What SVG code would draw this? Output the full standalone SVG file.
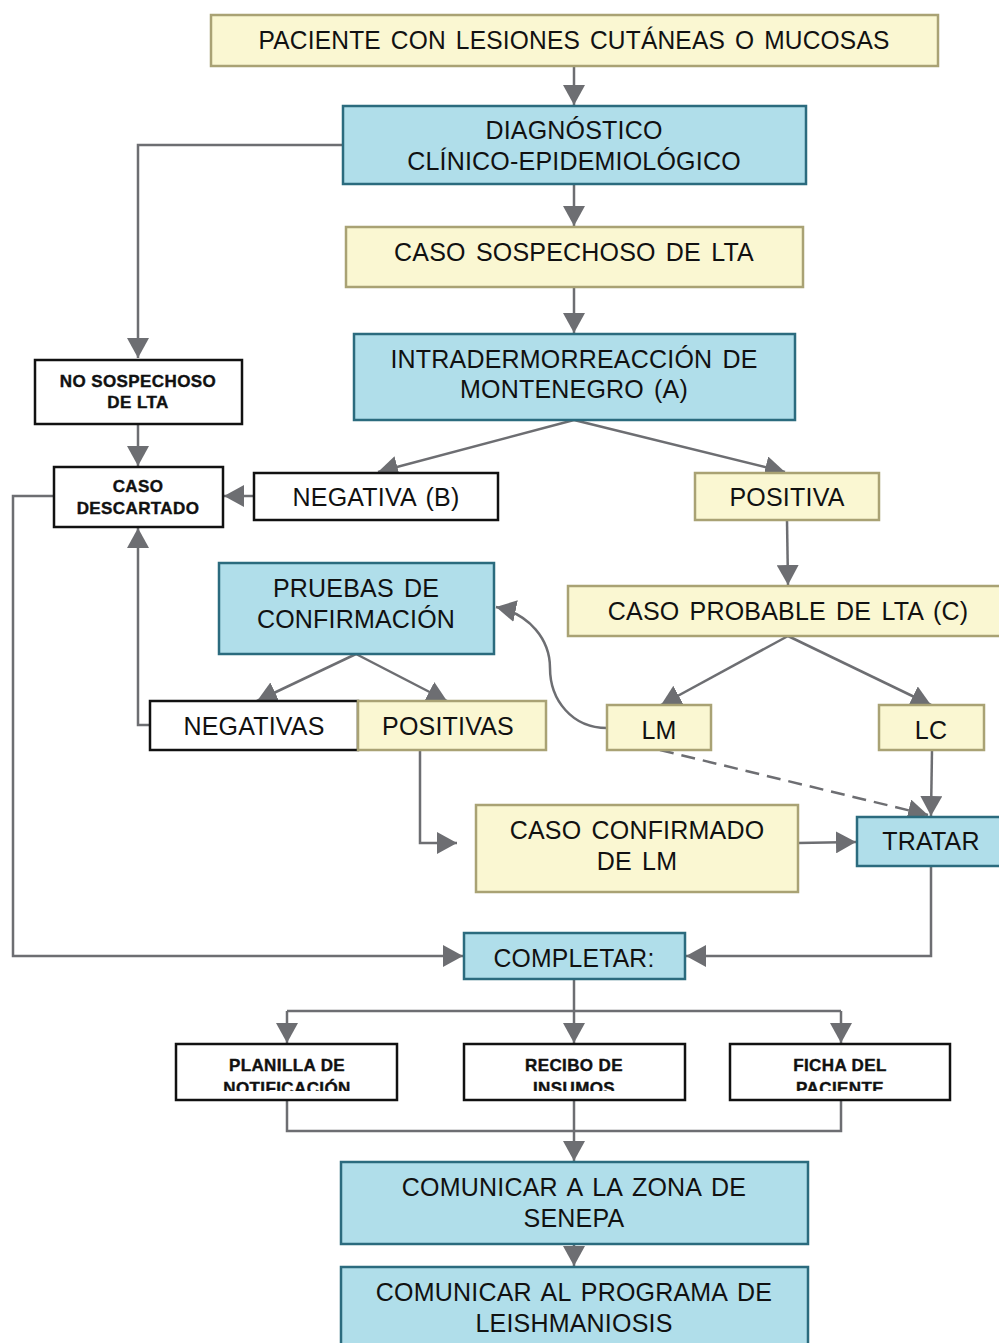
<svg xmlns="http://www.w3.org/2000/svg" width="999" height="1343" viewBox="0 0 999 1343">
<style>
.y{fill:#FAF7D2;stroke:#A9A274;stroke-width:2.5}
.b{fill:#B0DEEA;stroke:#2B6B7E;stroke-width:2.5}
.w{fill:#FFFFFF;stroke:#111111;stroke-width:2.5}
.t{font-family:"Liberation Sans",Arial,sans-serif;font-size:25px;fill:#111;text-anchor:middle;letter-spacing:0.2px;word-spacing:3px}
.k{font-family:"Liberation Sans",Arial,sans-serif;font-size:17px;font-weight:bold;fill:#111;stroke:#111;stroke-width:0.4;letter-spacing:0.4px;text-anchor:middle}
.c{fill:none;stroke:#6D6E72;stroke-width:2.5}
</style>
<defs>
<marker id="a" viewBox="0 0 20 22" markerUnits="userSpaceOnUse" markerWidth="20" markerHeight="22" refX="20" refY="11" orient="auto">
<path d="M0,0 L20,11 L0,22 z" fill="#6D6E72"/>
</marker>
<clipPath id="cp1"><rect x="176" y="1044" width="221" height="47"/></clipPath>
<clipPath id="cp2"><rect x="464" y="1044" width="221" height="47"/></clipPath>
<clipPath id="cp3"><rect x="730" y="1044" width="220" height="47"/></clipPath>
</defs>
<rect width="999" height="1343" fill="#fff"/>
<g id="connectors">
<path class="c" d="M574,66 V105" marker-end="url(#a)"/>
<path class="c" d="M343,145 H138 V358" marker-end="url(#a)"/>
<path class="c" d="M574,184 V226" marker-end="url(#a)"/>
<path class="c" d="M574,287 V333" marker-end="url(#a)"/>
<path class="c" d="M138,424 V466" marker-end="url(#a)"/>
<path class="c" d="M254,496 H224" marker-end="url(#a)"/>
<path class="c" d="M574,420 L378,472" marker-end="url(#a)"/>
<path class="c" d="M574,420 L785,472" marker-end="url(#a)"/>
<path class="c" d="M787,520 L788,585" marker-end="url(#a)"/>
<path class="c" d="M788,636 L661,705" marker-end="url(#a)"/>
<path class="c" d="M788,636 L931,705" marker-end="url(#a)"/>
<path class="c" d="M356,654 L257,701" marker-end="url(#a)"/>
<path class="c" d="M356,654 L447,701" marker-end="url(#a)"/>
<path class="c" d="M150,725 H138 V528" marker-end="url(#a)"/>
<path class="c" d="M420,750 V843 H457" marker-end="url(#a)"/>
<path class="c" d="M607,728 C572,728 550,700 550,668 C550,640 530,614 496,607" marker-end="url(#a)"/>
<path class="c" d="M660,750 L928,815" stroke-dasharray="14,8" marker-end="url(#a)"/>
<path class="c" d="M932,750 L931,816" marker-end="url(#a)"/>
<path class="c" d="M798,843 L856,842" marker-end="url(#a)"/>
<path class="c" d="M931,866 V956 H686" marker-end="url(#a)"/>
<path class="c" d="M54,496 H13 V956 H463" marker-end="url(#a)"/>
<path class="c" d="M574,979 V1043" marker-end="url(#a)"/>
<path class="c" d="M287,1011 H841"/>
<path class="c" d="M287,1011 V1043" marker-end="url(#a)"/>
<path class="c" d="M841,1011 V1043" marker-end="url(#a)"/>
<path class="c" d="M287,1100 V1131 H841 V1100"/>
<path class="c" d="M574,1100 V1161" marker-end="url(#a)"/>
<path class="c" d="M574,1244 V1266" marker-end="url(#a)"/>
</g>
<g id="paciente"><rect class="y" x="211" y="15" width="727" height="51"/><text class="t" x="574" y="49" font-size="27" textLength="631" lengthAdjust="spacingAndGlyphs">PACIENTE CON LESIONES CUTÁNEAS O MUCOSAS</text></g>
<g id="diagnostico"><rect class="b" x="343" y="106" width="463" height="78"/><text class="t" x="574" y="139">DIAGNÓSTICO</text><text class="t" x="574" y="170">CLÍNICO-EPIDEMIOLÓGICO</text></g>
<g id="sospechoso"><rect class="y" x="346" y="227" width="457" height="60"/><text class="t" x="574" y="261">CASO SOSPECHOSO DE LTA</text></g>
<g id="intradermo"><rect class="b" x="354" y="334" width="441" height="86"/><text class="t" x="574" y="368">INTRADERMORREACCIÓN DE</text><text class="t" x="574" y="398">MONTENEGRO (A)</text></g>
<g id="nosospechoso"><rect class="w" x="35" y="360" width="207" height="64"/><text class="k" x="138" y="387">NO SOSPECHOSO</text><text class="k" x="138" y="408">DE LTA</text></g>
<g id="descartado"><rect class="w" x="54" y="467" width="169" height="60"/><text class="k" x="138" y="492">CASO</text><text class="k" x="138" y="514">DESCARTADO</text></g>
<g id="negativab"><rect class="w" x="254" y="473" width="244" height="47"/><text class="t" x="376" y="506">NEGATIVA (B)</text></g>
<g id="positiva"><rect class="y" x="695" y="473" width="184" height="47"/><text class="t" x="787" y="506">POSITIVA</text></g>
<g id="pruebas"><rect class="b" x="219" y="563" width="275" height="91"/><text class="t" x="356" y="597">PRUEBAS DE</text><text class="t" x="356" y="628">CONFIRMACIÓN</text></g>
<g id="negativas"><rect class="w" x="150" y="701" width="208" height="49"/><text class="t" x="254" y="735">NEGATIVAS</text></g>
<g id="positivas"><rect class="y" x="358" y="701" width="188" height="49"/><text class="t" x="448" y="735">POSITIVAS</text></g>
<g id="probable"><rect class="y" x="568" y="586" width="440" height="50"/><text class="t" x="788" y="620">CASO PROBABLE DE LTA (C)</text></g>
<g id="lm"><rect class="y" x="607" y="705" width="104" height="45"/><text class="t" x="659" y="739">LM</text></g>
<g id="lc"><rect class="y" x="879" y="705" width="105" height="45"/><text class="t" x="931" y="739">LC</text></g>
<g id="confirmado"><rect class="y" x="476" y="805" width="322" height="87"/><text class="t" x="637" y="839">CASO CONFIRMADO</text><text class="t" x="637" y="870">DE LM</text></g>
<g id="tratar"><rect class="b" x="857" y="817" width="150" height="49"/><text class="t" x="931" y="850">TRATAR</text></g>
<g id="completar"><rect class="b" x="464" y="933" width="221" height="46"/><text class="t" x="574" y="967" font-size="26" textLength="161" lengthAdjust="spacingAndGlyphs">COMPLETAR:</text></g>
<g id="planilla"><rect class="w" x="176" y="1044" width="221" height="56"/><g clip-path="url(#cp1)"><text class="k" x="287" y="1071">PLANILLA DE</text><text class="k" x="287" y="1094">NOTIFICACIÓN</text></g></g>
<g id="recibo"><rect class="w" x="464" y="1044" width="221" height="56"/><g clip-path="url(#cp2)"><text class="k" x="574" y="1071">RECIBO DE</text><text class="k" x="574" y="1094">INSUMOS</text></g></g>
<g id="ficha"><rect class="w" x="730" y="1044" width="220" height="56"/><g clip-path="url(#cp3)"><text class="k" x="840" y="1071">FICHA DEL</text><text class="k" x="840" y="1094">PACIENTE</text></g></g>
<g id="zona"><rect class="b" x="341" y="1162" width="467" height="82"/><text class="t" x="574" y="1196">COMUNICAR A LA ZONA DE</text><text class="t" x="574" y="1227">SENEPA</text></g>
<g id="programa"><rect class="b" x="341" y="1267" width="467" height="90"/><text class="t" x="574" y="1301">COMUNICAR AL PROGRAMA DE</text><text class="t" x="574" y="1332">LEISHMANIOSIS</text></g>
</svg>
